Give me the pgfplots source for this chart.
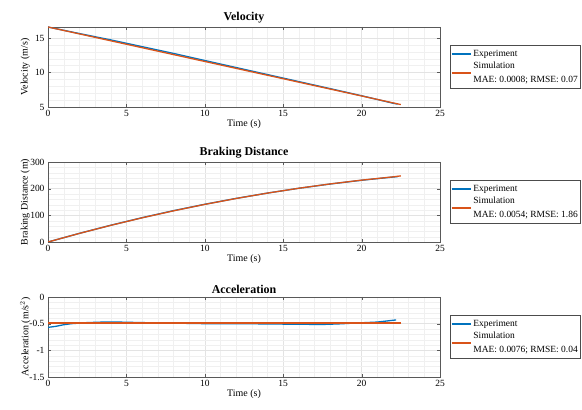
\documentclass[border=0pt]{standalone}
\usepackage{pgfplots}
\pgfplotsset{compat=1.18}
\usepackage{fontspec}
\setmainfont{Liberation Serif}

\definecolor{mblue}{rgb}{0,0.447,0.741}
\definecolor{morange}{rgb}{0.85,0.325,0.098}

\pgfplotsset{
  panel/.style={
    scale only axis, width=392bp, height=80bp,
    xmin=0, xmax=25, xtick={0,5,...,25},
    minor tick num=4,
    grid=both,
    major grid style={gray!22, line width=0.4pt},
    minor grid style={gray!12, line width=0.3pt},
    axis line style={gray!70!black, line width=0.5pt},
    tick style={gray!70!black},
    tick align=inside,
    minor tick length=0pt,
    major tick length=3bp,
    /pgf/number format/assume math mode=true,
    ticklabel style={font=\fontsize{9.5}{10}\selectfont},
    label style={font=\fontsize{10}{11}\selectfont},
    title style={font=\fontsize{12}{13}\selectfont\bfseries, yshift=-6bp},
    xlabel={Time (s)},
    xlabel style={yshift=4bp},
    ylabel style={at={(axis description cs:-0.058,0.5)}, anchor=center},
    legend style={at={(rel axis cs:1.026,0.5)}, anchor=west,
      font=\fontsize{9.5}{10.5}\selectfont, draw=gray!60!black,
      inner xsep=0.5bp, inner ysep=2.5bp, row sep=0.5bp,
      cells={inner xsep=1bp}},
    legend cell align=left,
    every axis plot/.append style={line width=1.3pt},
  },
  hiline/.style={legend image code/.code={
      \draw[mblue, line width=1.5bp] (0bp,0bp) -- (19bp,0bp);}},
  lowline/.style={legend image code/.code={
      \draw[morange, line width=1.5bp] (0bp,-6.5bp) -- (19bp,-6.5bp);}},
}

\pgfplotstableread{
t v
0 16.60
2 15.65
4 14.73
6 13.75
8 12.77
10 11.74
12 10.72
14 9.70
16 8.68
18 7.66
20 6.63
22 5.55
22.3 5.42
}\velexp

\pgfplotstableread{
t v
0 16.60
2 15.60
4 14.60
6 13.60
8 12.60
10 11.60
12 10.60
14 9.60
16 8.60
18 7.60
20 6.60
22 5.60
22.5 5.35
}\velsim

\pgfplotstableread{
t s
0 0
2 32.4
4 62.8
6 91.2
8 117.5
10 141.5
12 163.5
14 183.5
16 201.5
18 217.5
20 231.5
22 243.6
22.3 245.2
}\disexp

\pgfplotstableread{
t s
0 0
2 32.2
4 62.4
6 90.6
8 116.8
10 141.0
12 163.2
14 183.4
16 201.6
18 217.8
20 232.0
22 244.2
22.5 247.9
}\dissim

\pgfplotstableread{
t a
0 -0.57
0.5 -0.55
1 -0.52
1.5 -0.50
2.5 -0.48
3.5 -0.47
4.5 -0.47
6 -0.48
8 -0.49
10 -0.50
12 -0.50
14 -0.505
15.5 -0.51
17.5 -0.515
18.5 -0.505
19.5 -0.49
21 -0.47
22.2 -0.43
}\accexp

\pgfplotstableread{
t a
0 -0.485
22.5 -0.485
}\accsim

\begin{document}
\begin{tikzpicture}
\useasboundingbox (0,0) rectangle (582bp,410bp);

\begin{axis}[panel, at={(48bp,303bp)},
  title={Velocity}, ylabel={Velocity (m/s)},
  ymin=5, ymax=16.6, ytick={5,10,15}]
\addplot[mblue, hiline] table[x=t,y=v] {\velexp};
\addlegendentry{Experiment}
\addplot[morange, lowline] table[x=t,y=v] {\velsim};
\addlegendentry{Simulation}
\addlegendimage{empty legend}
\addlegendentry{MAE: 0.0008; RMSE: 0.07}
\end{axis}

\begin{axis}[panel, at={(48bp,168bp)},
  title={Braking Distance}, ylabel={Braking Distance (m)},
  ymin=0, ymax=300, ytick={0,100,200,300}]
\addplot[mblue, hiline] table[x=t,y=s] {\disexp};
\addlegendentry{Experiment}
\addplot[morange, lowline] table[x=t,y=s] {\dissim};
\addlegendentry{Simulation}
\addlegendimage{empty legend}
\addlegendentry{MAE: 0.0054; RMSE: 1.86}
\end{axis}

\begin{axis}[panel, at={(48bp,33bp)},
  title={Acceleration}, ylabel={Acceleration (m/s$^2$)},
  ymin=-1.5, ymax=0, ytick={-1.5,-1,-0.5,0}]
\addplot[mblue, hiline] table[x=t,y=a] {\accexp};
\addlegendentry{Experiment}
\addplot[morange, lowline] table[x=t,y=a] {\accsim};
\addlegendentry{Simulation}
\addlegendimage{empty legend}
\addlegendentry{MAE: 0.0076; RMSE: 0.04}
\end{axis}
\end{tikzpicture}
\end{document}
